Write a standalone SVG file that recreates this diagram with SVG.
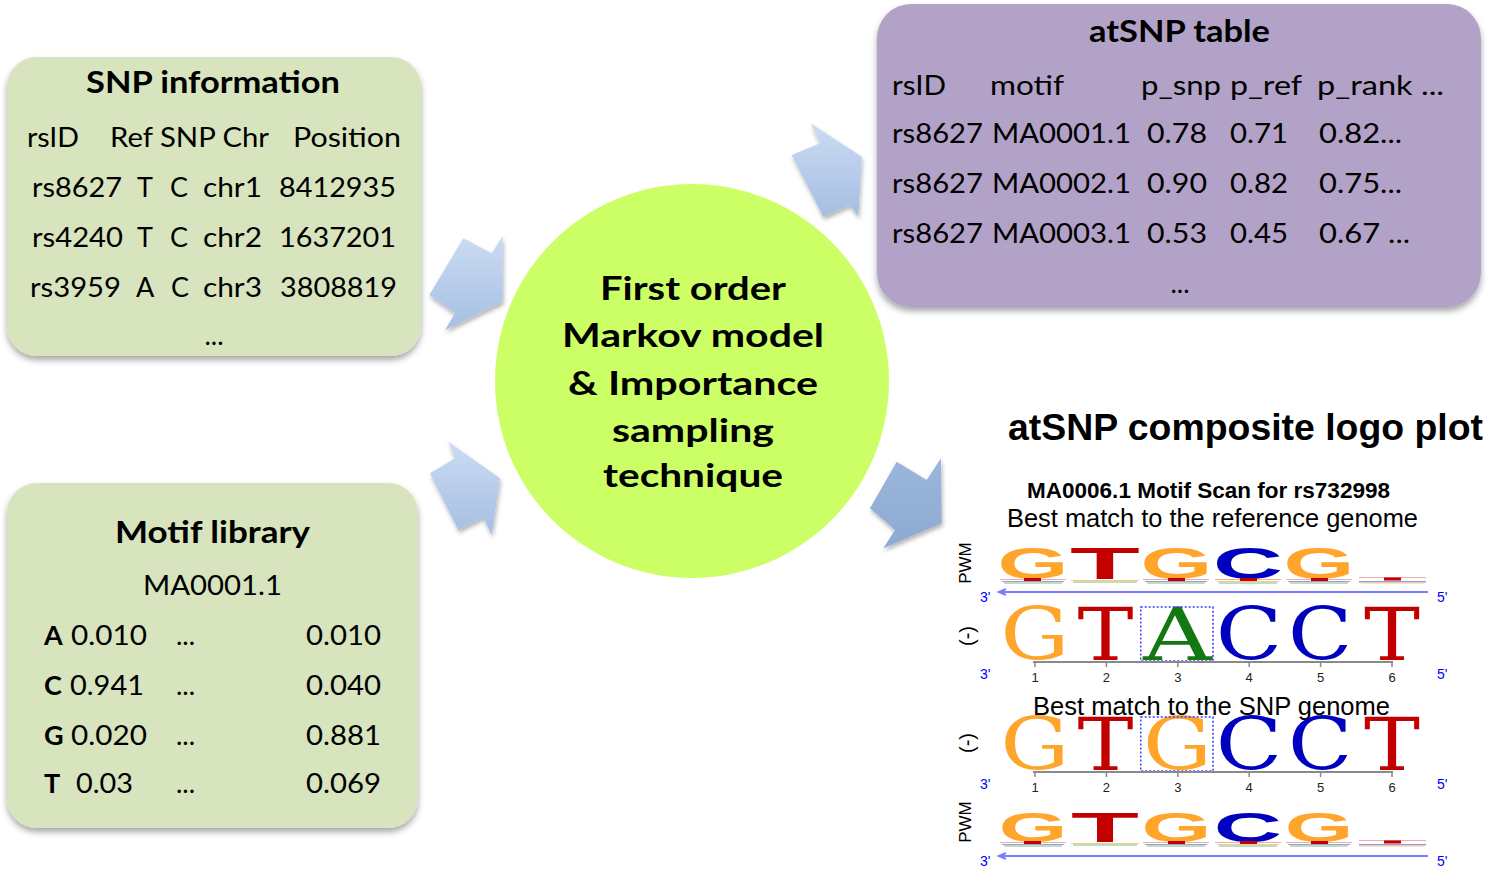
<svg xmlns="http://www.w3.org/2000/svg" width="1489" height="883" viewBox="0 0 1489 883">
<defs>
<style>
.cal{font-family:Lato,"Open Sans","Liberation Sans",sans-serif;fill:#000}
.t29{font-size:27px}
.bt{font-size:30px;font-weight:bold}
.ct{font-size:33px;font-weight:bold}
.ar{font-family:"Liberation Sans",Arial,sans-serif}
.pw{font-family:"Liberation Sans",Arial,sans-serif;font-weight:bold}
.sf{font-family:"DejaVu Serif","Liberation Serif",serif}
.num{font-family:"Liberation Sans",Arial,sans-serif;font-size:13px;fill:#222;text-anchor:middle}
.pr{font-family:"Liberation Sans",Arial,sans-serif;font-size:14px;fill:#0000ff}
.oA{fill:#127812}.oC{fill:#0000bf}.oG{fill:#ffa52c}.oT{fill:#c20000}
.strand{stroke:#7a7aff;stroke-width:2;fill:none}
.axis{stroke:#8a8a8a;stroke-width:2;fill:none}
.tick{stroke:#8a8a8a;stroke-width:1.5}
.sel{fill:none;stroke:#3a3aff;stroke-width:1.5;stroke-dasharray:2,2}
</style>
<filter id="sh" x="-10%" y="-10%" width="120%" height="125%">
<feDropShadow dx="0" dy="4" stdDeviation="3" flood-color="#000" flood-opacity="0.35"/>
</filter>
<filter id="sha" x="-20%" y="-20%" width="150%" height="150%">
<feDropShadow dx="1" dy="3" stdDeviation="2" flood-color="#000" flood-opacity="0.3"/>
</filter>
<linearGradient id="ga" x1="0" y1="0" x2="0" y2="1">
<stop offset="0" stop-color="#cbdcf3"/>
<stop offset="1" stop-color="#a6bee3"/>
</linearGradient>
<linearGradient id="gb" x1="0" y1="0" x2="0" y2="1">
<stop offset="0" stop-color="#9ab6da"/>
<stop offset="1" stop-color="#8eaad2"/>
</linearGradient>
</defs>
<rect width="1489" height="883" fill="#fff"/>

<g id="connectors">
<polygon filter="url(#sha)" fill="url(#ga)" points="463.3,238.3 491.7,253.3 502.7,236 502.7,301.7 445,330 455,313.3 429.3,295"/>
<polygon filter="url(#sha)" fill="url(#ga)" points="448.3,441.7 500,478.3 491.7,535 483.3,517.3 458.3,530 430,473.3 455,458.3"/>
<polygon filter="url(#sha)" fill="url(#ga)" points="810.7,123.3 861.7,156.7 858.3,216.7 850,205 823.3,216.7 791.7,155 820,143.3"/>
<polygon filter="url(#sha)" fill="url(#gb)" points="896.7,461.7 926.7,480 941,458.3 941.7,523.3 883.3,548.3 895,530 870,508.3"/>
</g>

<g id="snp-info">
<rect x="7" y="57" width="414" height="299" rx="30" fill="#d7e4bd" filter="url(#sh)"/>
<text class="cal bt" x="86" y="93" textLength="254" lengthAdjust="spacingAndGlyphs">SNP information</text>
<g class="cal t29">
<text x="27" y="147" textLength="52" lengthAdjust="spacingAndGlyphs">rsID</text>
<text x="110" y="147" textLength="159" lengthAdjust="spacingAndGlyphs">Ref SNP Chr</text>
<text x="293" y="147" textLength="108" lengthAdjust="spacingAndGlyphs">Position</text>
<text x="32" y="197" textLength="90" lengthAdjust="spacingAndGlyphs">rs8627</text>
<text x="137" y="197">T</text><text x="170" y="197">C</text>
<text x="203" y="197" textLength="59" lengthAdjust="spacingAndGlyphs">chr1</text>
<text x="279" y="197" textLength="117" lengthAdjust="spacingAndGlyphs">8412935</text>
<text x="32" y="247" textLength="91" lengthAdjust="spacingAndGlyphs">rs4240</text>
<text x="137" y="247">T</text><text x="170" y="247">C</text>
<text x="203" y="247" textLength="59" lengthAdjust="spacingAndGlyphs">chr2</text>
<text x="279" y="247" textLength="117" lengthAdjust="spacingAndGlyphs">1637201</text>
<text x="30" y="297" textLength="91" lengthAdjust="spacingAndGlyphs">rs3959</text>
<text x="136" y="297">A</text><text x="171" y="297">C</text>
<text x="203" y="297" textLength="59" lengthAdjust="spacingAndGlyphs">chr3</text>
<text x="280" y="297" textLength="117" lengthAdjust="spacingAndGlyphs">3808819</text>
<text x="214" y="345" text-anchor="middle">...</text>
</g>
</g>

<g id="motif-library">
<rect x="7" y="483" width="411" height="345" rx="30" fill="#d7e4bd" filter="url(#sh)"/>
<text class="cal bt" x="115" y="543" textLength="195" lengthAdjust="spacingAndGlyphs">Motif library</text>
<g class="cal t29">
<text x="143" y="595" textLength="139" lengthAdjust="spacingAndGlyphs">MA0001.1</text>
<text x="44" y="645" font-weight="bold">A</text>
<text x="71" y="645" textLength="76" lengthAdjust="spacingAndGlyphs">0.010</text>
<text x="176" y="645">...</text>
<text x="306" y="645" textLength="75" lengthAdjust="spacingAndGlyphs">0.010</text>
<text x="44" y="695" font-weight="bold">C</text>
<text x="70" y="695" textLength="74" lengthAdjust="spacingAndGlyphs">0.941</text>
<text x="176" y="695">...</text>
<text x="306" y="695" textLength="75" lengthAdjust="spacingAndGlyphs">0.040</text>
<text x="44" y="745" font-weight="bold">G</text>
<text x="71" y="745" textLength="76" lengthAdjust="spacingAndGlyphs">0.020</text>
<text x="176" y="745">...</text>
<text x="306" y="745" textLength="75" lengthAdjust="spacingAndGlyphs">0.881</text>
<text x="44" y="793" font-weight="bold">T</text>
<text x="76" y="793" textLength="57" lengthAdjust="spacingAndGlyphs">0.03</text>
<text x="176" y="793">...</text>
<text x="306" y="793" textLength="75" lengthAdjust="spacingAndGlyphs">0.069</text>
</g>
</g>

<g id="markov-model">
<circle cx="692" cy="381" r="197" fill="#ccff66"/>
<g class="cal ct">
<text x="600" y="300" textLength="186" lengthAdjust="spacingAndGlyphs">First order</text>
<text x="562" y="347" textLength="262" lengthAdjust="spacingAndGlyphs">Markov model</text>
<text x="568" y="395" textLength="250" lengthAdjust="spacingAndGlyphs">&amp; Importance</text>
<text x="612" y="442" textLength="162" lengthAdjust="spacingAndGlyphs">sampling</text>
<text x="603" y="487" textLength="180" lengthAdjust="spacingAndGlyphs">technique</text>
</g>
</g>

<g id="atsnp-table">
<rect x="877" y="4" width="604" height="303" rx="34" fill="#b3a2c7" filter="url(#sh)"/>
<text class="cal bt" x="1089" y="42" textLength="181" lengthAdjust="spacingAndGlyphs">atSNP table</text>
<g class="cal t29">
<text x="892" y="95" textLength="54" lengthAdjust="spacingAndGlyphs">rsID</text>
<text x="990" y="95" textLength="74" lengthAdjust="spacingAndGlyphs">motif</text>
<text x="1141" y="95" textLength="80" lengthAdjust="spacingAndGlyphs">p_snp</text>
<text x="1230" y="95" textLength="72" lengthAdjust="spacingAndGlyphs">p_ref</text>
<text x="1317" y="95" textLength="127" lengthAdjust="spacingAndGlyphs">p_rank ...</text>
<text x="892" y="143" textLength="91" lengthAdjust="spacingAndGlyphs">rs8627</text>
<text x="992" y="143" textLength="139" lengthAdjust="spacingAndGlyphs">MA0001.1</text>
<text x="1147" y="143" textLength="60" lengthAdjust="spacingAndGlyphs">0.78</text>
<text x="1230" y="143" textLength="58" lengthAdjust="spacingAndGlyphs">0.71</text>
<text x="1319" y="143" textLength="83" lengthAdjust="spacingAndGlyphs">0.82...</text>
<text x="892" y="193" textLength="91" lengthAdjust="spacingAndGlyphs">rs8627</text>
<text x="992" y="193" textLength="139" lengthAdjust="spacingAndGlyphs">MA0002.1</text>
<text x="1147" y="193" textLength="60" lengthAdjust="spacingAndGlyphs">0.90</text>
<text x="1230" y="193" textLength="58" lengthAdjust="spacingAndGlyphs">0.82</text>
<text x="1319" y="193" textLength="83" lengthAdjust="spacingAndGlyphs">0.75...</text>
<text x="892" y="243" textLength="91" lengthAdjust="spacingAndGlyphs">rs8627</text>
<text x="992" y="243" textLength="139" lengthAdjust="spacingAndGlyphs">MA0003.1</text>
<text x="1147" y="243" textLength="60" lengthAdjust="spacingAndGlyphs">0.53</text>
<text x="1230" y="243" textLength="58" lengthAdjust="spacingAndGlyphs">0.45</text>
<text x="1319" y="243" textLength="91" lengthAdjust="spacingAndGlyphs">0.67 ...</text>
<text x="1180" y="293" text-anchor="middle">...</text>
</g>
</g>

<g id="logo-plot">
<text class="ar" x="1008" y="440" font-size="37" font-weight="bold" textLength="475" lengthAdjust="spacingAndGlyphs">atSNP composite logo plot</text>
<text class="ar" x="1027" y="498" font-size="22" font-weight="bold" textLength="363" lengthAdjust="spacingAndGlyphs">MA0006.1 Motif Scan for rs732998</text>
<text class="ar" x="1007" y="527" font-size="25" textLength="411" lengthAdjust="spacingAndGlyphs">Best match to the reference genome</text>

<!-- PWM top -->
<text class="ar" font-size="17" text-anchor="middle" transform="translate(971,563) rotate(-90)">PWM</text>
<g class="pw" font-size="44" text-anchor="middle">
<text class="oG" transform="translate(1033,579) scale(2.07,1)">G</text>
<text class="oT" transform="translate(1105,579) scale(2.6,1.03)">T</text>
<text class="oG" transform="translate(1176.5,579) scale(2.1,1)">G</text>
<text class="oC" transform="translate(1248,579) scale(2.2,1)">C</text>
<text class="oG" transform="translate(1319,579) scale(2.07,1)">G</text>
</g>
<g>
<rect x="1000" y="579" width="66" height="1" fill="#f2a9a9"/><rect x="1024" y="578" width="17" height="3" fill="#c20000"/><rect x="1002" y="581" width="62" height="1" fill="#9a9ae6"/><rect x="1004" y="582.5" width="58" height="1" fill="#7fbf7f"/>
<rect x="1071" y="580" width="68" height="1" fill="#f7c98a"/><rect x="1073" y="581.5" width="64" height="1" fill="#7fbf7f"/>
<rect x="1143" y="579" width="66" height="1" fill="#f2a9a9"/><rect x="1168" y="578" width="17" height="3" fill="#c20000"/><rect x="1145" y="581" width="62" height="1" fill="#9a9ae6"/><rect x="1147" y="582.5" width="58" height="1" fill="#7fbf7f"/>
<rect x="1215" y="579" width="66" height="1" fill="#f2a9a9"/><rect x="1240" y="578" width="17" height="3" fill="#c20000"/><rect x="1217" y="581" width="62" height="1" fill="#f7c98a"/><rect x="1219" y="582.5" width="58" height="1" fill="#7fbf7f"/>
<rect x="1286" y="579" width="66" height="1" fill="#f2a9a9"/><rect x="1311" y="578" width="17" height="3" fill="#c20000"/><rect x="1288" y="581" width="62" height="1" fill="#9a9ae6"/><rect x="1290" y="582.5" width="58" height="1" fill="#7fbf7f"/>
<rect x="1359" y="577" width="67" height="1" fill="#f2a9a9"/><rect x="1384" y="577.5" width="17" height="3" fill="#c20000"/><rect x="1359" y="581" width="67" height="1.5" fill="#9a9ae6"/><rect x="1361" y="582.5" width="63" height="1" fill="#f7c98a"/>
</g>
<path class="strand" d="M1428,592 H999 M1006,589 L999,592 L1006,595"/>
<text class="pr" x="980" y="602">3'</text><text class="pr" x="1437" y="602">5'</text>

<!-- Ref strand row -->
<text class="ar" font-size="20" text-anchor="middle" dominant-baseline="central" transform="translate(967,636) rotate(-90)">(-)</text>
<g class="sf" font-size="73" text-anchor="middle">
<text class="oG" transform="translate(1035,660) scale(1.18,1)">G</text>
<text class="oT" transform="translate(1105.5,660) scale(1.15,1)">T</text>
<text class="oA" transform="translate(1177.4,660) scale(1.3,1)">A</text>
<text class="oC" transform="translate(1249,660) scale(1.19,1)">C</text>
<text class="oC" transform="translate(1320,660) scale(1.15,1)">C</text>
<text class="oT" transform="translate(1392,660) scale(1.15,1)">T</text>
</g>
<rect class="sel" x="1140.7" y="607" width="72.3" height="54"/>
<path class="axis" d="M1033,662 H1393"/>
<path class="tick" d="M1035,662 v5 M1106.4,662 v5 M1177.8,662 v5 M1249.2,662 v5 M1320.6,662 v5 M1392,662 v5"/>
<text class="num" x="1035" y="682">1</text><text class="num" x="1106.4" y="682">2</text><text class="num" x="1177.8" y="682">3</text><text class="num" x="1249.2" y="682">4</text><text class="num" x="1320.6" y="682">5</text><text class="num" x="1392" y="682">6</text>
<text class="pr" x="980" y="679">3'</text><text class="pr" x="1437" y="679">5'</text>

<text class="ar" x="1033" y="715" font-size="25" textLength="357" lengthAdjust="spacingAndGlyphs">Best match to the SNP genome</text>

<!-- SNP strand row -->
<text class="ar" font-size="20" text-anchor="middle" dominant-baseline="central" transform="translate(967,743) rotate(-90)">(-)</text>
<g class="sf" font-size="73" text-anchor="middle">
<text class="oG" transform="translate(1035,770) scale(1.18,1)">G</text>
<text class="oT" transform="translate(1105.5,770) scale(1.15,1)">T</text>
<text class="oG" transform="translate(1177.4,770) scale(1.18,1)">G</text>
<text class="oC" transform="translate(1249,770) scale(1.19,1)">C</text>
<text class="oC" transform="translate(1320,770) scale(1.15,1)">C</text>
<text class="oT" transform="translate(1392,770) scale(1.15,1)">T</text>
</g>
<rect class="sel" x="1140.7" y="717" width="72.3" height="54"/>
<path class="axis" d="M1033,772 H1393"/>
<path class="tick" d="M1035,772 v5 M1106.4,772 v5 M1177.8,772 v5 M1249.2,772 v5 M1320.6,772 v5 M1392,772 v5"/>
<text class="num" x="1035" y="792">1</text><text class="num" x="1106.4" y="792">2</text><text class="num" x="1177.8" y="792">3</text><text class="num" x="1249.2" y="792">4</text><text class="num" x="1320.6" y="792">5</text><text class="num" x="1392" y="792">6</text>
<text class="pr" x="980" y="789">3'</text><text class="pr" x="1437" y="789">5'</text>

<!-- PWM bottom -->
<text class="ar" font-size="17" text-anchor="middle" transform="translate(971,822) rotate(-90)">PWM</text>
<g class="pw" font-size="42" text-anchor="middle">
<text class="oG" transform="translate(1033,842) scale(2.1,1)">G</text>
<text class="oT" transform="translate(1105,842) scale(2.65,1.03)">T</text>
<text class="oG" transform="translate(1176.5,842) scale(2.14,1)">G</text>
<text class="oC" transform="translate(1248,842) scale(2.25,1)">C</text>
<text class="oG" transform="translate(1319,842) scale(2.1,1)">G</text>
</g>
<g>
<rect x="1000" y="842" width="66" height="1" fill="#f2a9a9"/><rect x="1024" y="841" width="17" height="3" fill="#c20000"/><rect x="1002" y="844" width="62" height="1" fill="#9a9ae6"/><rect x="1004" y="845.5" width="58" height="1" fill="#7fbf7f"/>
<rect x="1071" y="843" width="68" height="1" fill="#f7c98a"/><rect x="1073" y="844.5" width="64" height="1" fill="#7fbf7f"/>
<rect x="1143" y="842" width="66" height="1" fill="#f2a9a9"/><rect x="1168" y="841" width="17" height="3" fill="#c20000"/><rect x="1145" y="844" width="62" height="1" fill="#9a9ae6"/><rect x="1147" y="845.5" width="58" height="1" fill="#7fbf7f"/>
<rect x="1215" y="842" width="66" height="1" fill="#f2a9a9"/><rect x="1240" y="841" width="17" height="3" fill="#c20000"/><rect x="1217" y="844" width="62" height="1" fill="#f7c98a"/><rect x="1219" y="845.5" width="58" height="1" fill="#7fbf7f"/>
<rect x="1286" y="842" width="66" height="1" fill="#f2a9a9"/><rect x="1311" y="841" width="17" height="3" fill="#c20000"/><rect x="1288" y="844" width="62" height="1" fill="#9a9ae6"/><rect x="1290" y="845.5" width="58" height="1" fill="#7fbf7f"/>
<rect x="1359" y="840" width="67" height="1" fill="#f2a9a9"/><rect x="1384" y="840.5" width="17" height="3" fill="#c20000"/><rect x="1359" y="844" width="67" height="1.5" fill="#9a9ae6"/><rect x="1361" y="845.5" width="63" height="1" fill="#f7c98a"/>
</g>
<path class="strand" d="M1428,856 H999 M1006,853 L999,856 L1006,859"/>
<text class="pr" x="980" y="866">3'</text><text class="pr" x="1437" y="866">5'</text>
</g>
</svg>
